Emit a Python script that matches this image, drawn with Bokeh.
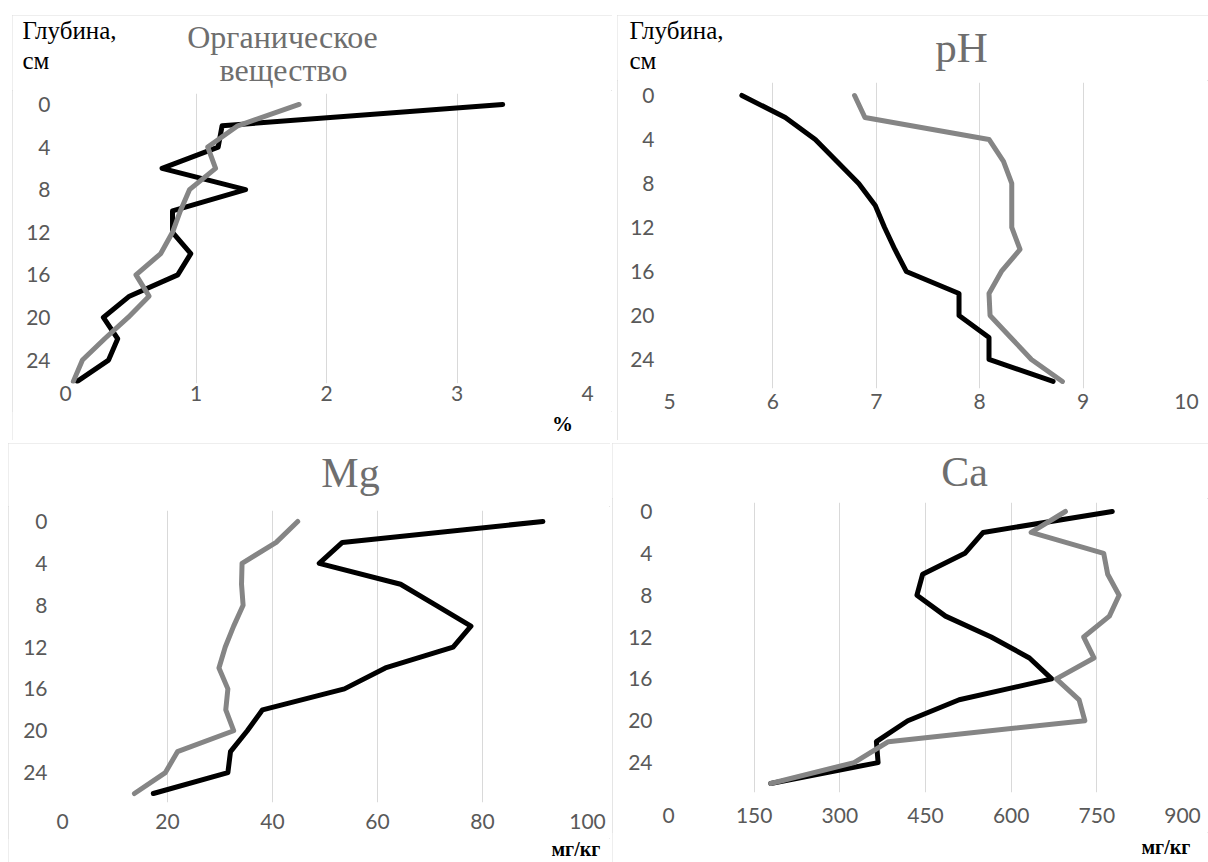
from bokeh.plotting import figure
from bokeh.models import Range1d, FixedTicker, Label
from bokeh.layouts import row, column
from bokeh.embed import file_html
from bokeh.resources import INLINE

# ---------------- data ----------------
depth = [0, 2, 4, 6, 8, 10, 12, 14, 16, 18, 20, 22, 24, 26]
depth_ticks = [0, 4, 8, 12, 16, 20, 24]

om_ticks = [0, 1, 2, 3, 4]
om_black = [3.35, 1.20, 1.17, 0.74, 1.38, 0.82, 0.82, 0.96, 0.86, 0.49, 0.29, 0.40, 0.33, 0.09]
om_gray = [1.79, 1.32, 1.09, 1.15, 0.95, 0.88, 0.82, 0.73, 0.54, 0.64, 0.48, 0.30, 0.13, 0.06]

ph_ticks = [5, 6, 7, 8, 9, 10]
ph_black = [5.70, 6.12, 6.41, 6.62, 6.83, 6.99, 7.08, 7.18, 7.29, 7.80, 7.80, 8.09, 8.09, 8.71]
ph_gray = [6.79, 6.89, 8.09, 8.23, 8.31, 8.31, 8.31, 8.39, 8.21, 8.09, 8.10, 8.30, 8.50, 8.80]

mg_ticks = [0, 20, 40, 60, 80, 100]
mg_black = [91.5, 53.3, 48.9, 64.4, 71.1, 77.8, 74.4, 61.5, 53.7, 38.1, 35.2, 32.0, 31.5, 17.3]
mg_gray = [44.8, 40.7, 34.2, 34.1, 34.4, 32.6, 31.0, 29.8, 31.5, 31.1, 32.6, 21.9, 19.6, 13.7]

ca_ticks = [0, 150, 300, 450, 600, 750, 900]
ca_black = [777, 551, 519, 445, 435, 485, 565, 632, 671, 509, 419, 364, 367, 179]
ca_gray = [695, 635, 762, 769, 789, 772, 727, 745, 679, 719, 729, 385, 325, 179]

TICK_FONT = "Lato"
SERIF = "Liberation Serif"
TICK_COLOR = "#595959"
GRID_COLOR = "#d9d9d9"
BLACK = "#000000"
GRAY = "#858585"
TITLE_COLOR = "#6e6e6e"
PANEL_OUTLINE = {"outline": "1px solid #dcdcdc", "outline-offset": "-1px"}


def make_main(w, h, borders, xr, yr, xticks, x_standoff, y_standoff):
    left, right, top, bottom = borders
    p = figure(width=w, height=h, x_range=Range1d(*xr), y_range=Range1d(*yr),
               output_backend="svg", toolbar_location=None, title=None,
               min_border_left=left, min_border_right=right,
               min_border_top=top, min_border_bottom=bottom,
               outline_line_color=None, frame_align=False)
    p.xaxis.ticker = FixedTicker(ticks=xticks)
    p.yaxis.ticker = FixedTicker(ticks=depth_ticks)
    for ax in (p.xaxis[0], p.yaxis[0]):
        ax.axis_line_color = None
        ax.major_tick_line_color = None
        ax.minor_tick_line_color = None
        ax.major_tick_out = 0
        ax.major_tick_in = 0
        ax.major_label_text_color = TICK_COLOR
        ax.major_label_text_font = TICK_FONT
        ax.major_label_text_font_size = "21px"
    p.xaxis.major_label_standoff = x_standoff
    p.yaxis.major_label_standoff = y_standoff
    p.xgrid.grid_line_color = GRID_COLOR
    p.xgrid.grid_line_width = 1
    p.ygrid.grid_line_color = None
    return p


def make_strip(w, h):
    """A plain text strip (header/footer of a panel); its frame is the whole strip,
    with coordinates in pixels measured from the strip's top-left corner."""
    s = figure(width=w, height=h, x_range=Range1d(0, w), y_range=Range1d(h, 0),
               output_backend="svg", toolbar_location=None, title=None,
               x_axis_location=None, y_axis_location=None,
               min_border=0, outline_line_color=None, frame_align=False)
    for g in s.grid:
        g.visible = False
    return s


def add_lines(p, black, gray):
    p.line(black, depth, line_color=BLACK, line_width=5, line_join="round", line_cap="round")
    p.line(gray, depth, line_color=GRAY, line_width=5, line_join="round", line_cap="round")


def add_text(p, x, baseline, text, size, color="#000000", align="left", font=SERIF, style="normal"):
    # the renderer places the alphabetic baseline about 0.42 em low; compensate
    y = baseline - 0.42 * size
    p.add_layout(Label(x=x, y=y, text=text, text_align=align, text_baseline="alphabetic",
                       text_font=font, text_font_size=f"{size}px", text_color=color,
                       text_font_style=style))


# Panel 1: organic matter  (box 600 x 425)
h1 = make_strip(600, 75)
add_text(h1, 10, 25, "Глубина,", 25)
add_text(h1, 10, 55, "см", 25)
add_text(h1, 270, 35, "Органическое", 32, TITLE_COLOR, "center")
add_text(h1, 271, 68, "вещество", 32, TITLE_COLOR, "center")
m1 = make_main(600, 321, (53, 25, 3, 28), (0, 4), (26.2, -1.03), om_ticks, 2, 15)
add_lines(m1, om_black, om_gray)
f1 = make_strip(600, 29)
add_text(f1, 550, 21, "%", 21, "#000000", "center", style="bold")
panel1 = column(h1, m1, f1, margin=(15, 0, 0, 12), styles=PANEL_OUTLINE)

# Panel 2: pH  (box 591 x 425)
h2 = make_strip(591, 65)
add_text(h2, 12, 25, "Глубина,", 25)
add_text(h2, 12, 55, "см", 25)
add_text(h2, 344, 50, "pH", 43, TITLE_COLOR, "center")
m2 = make_main(591, 360, (52, 22, 2, 52), (5, 10), (26.64, -1.18), ph_ticks, 5, 15)
add_lines(m2, ph_black, ph_gray)
panel2 = column(h2, m2, margin=(15, 0, 0, 5), styles=PANEL_OUTLINE)

# Panel 3: Mg  (box 602 x 419)
h3 = make_strip(602, 63)
add_text(h3, 342, 47, "Mg", 42, TITLE_COLOR, "center")
m3 = make_main(602, 332, (54, 23, 4, 36), (0, 100), (26.86, -1.05), mg_ticks, 11, 15)
add_lines(m3, mg_black, mg_gray)
f3 = make_strip(602, 24)
add_text(f3, 543, 19, "мг/кг", 20, "#000000", "left", style="bold")
panel3 = column(h3, m3, f3, margin=(3, 0, 0, 8), styles=PANEL_OUTLINE)

# Panel 4: Ca  (box 596 x 419)
h4 = make_strip(596, 55)
add_text(h4, 352, 46, "Ca", 42, TITLE_COLOR, "center")
m4 = make_main(596, 334, (56, 26, 4, 40), (0, 900), (26.86, -0.86), ca_ticks, 15, 16)
add_lines(m4, ca_black, ca_gray)
f4 = make_strip(596, 30)
add_text(f4, 529, 23, "мг/кг", 20, "#000000", "left", style="bold")
panel4 = column(h4, m4, f4, margin=(3, 0, 0, 2), styles=PANEL_OUTLINE)

layout = column(row(panel1, panel2), row(panel3, panel4))

open("out.html", "w").write(file_html(layout, INLINE))
